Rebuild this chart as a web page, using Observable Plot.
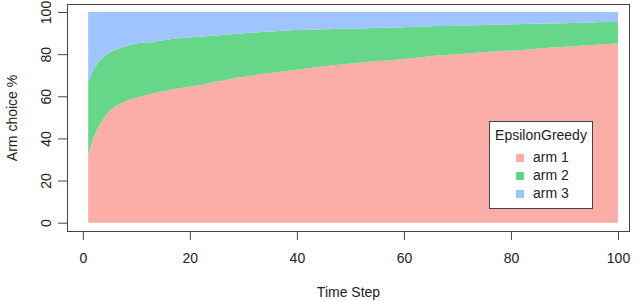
<!DOCTYPE html>
<html>
<head>
<meta charset="utf-8">
<script src="https://cdn.jsdelivr.net/npm/d3@7"></script>
<script src="https://cdn.jsdelivr.net/npm/@observablehq/plot@0.6"></script>
<style>
  html, body { margin: 0; padding: 0; background: #fff; }
  #wrap { position: relative; width: 640px; height: 301px; font-family: "Liberation Sans", Arial, sans-serif; }
  #legend { position: absolute; left: 489px; top: 121px; width: 102px; height: 86px; border: 1px solid #444; background: #fff; font-size: 14px; color: #222; }
  #legend .title { position: absolute; left: 0; right: 0; top: 5px; text-align: center; }
  #legend .item { position: absolute; left: 26px; height: 16px; line-height: 16px; }
  #legend .sw { display: inline-block; width: 8px; height: 8px; margin-right: 9px; vertical-align: 0px; }
</style>
</head>
<body>
<div id="wrap"></div>
<script>
// Time steps 1..100
const steps = d3.range(1, 101);
const arms = ["arm 1", "arm 2", "arm 3"];
const armColors = ["#FBADA7", "#66D688", "#A0C4FF"];
const legendTitle = "EpsilonGreedy";
const xTicks = [0, 20, 40, 60, 80, 100];
const yTicks = [0, 20, 40, 60, 80, 100];
const total = 100;

// cumulative share of arm 1 (%)
const arm1Top = [
  32, 40.5, 46, 50, 53, 55, 56.5, 57.7, 58.6, 59.3,
  60, 60.6, 61.2, 62, 62.3, 62.9, 63.4, 63.8, 64.2, 64.6,
  65, 65.4, 66, 66.5, 67, 67.4, 67.8, 68.4, 69, 69.2,
  69.6, 70, 70.4, 70.7, 71, 71.3, 71.7, 72, 72.4, 72.6,
  73, 73.3, 73.7, 74, 74.2, 74.5, 74.8, 75, 75.3, 75.6,
  75.8, 76, 76.2, 76.5, 76.7, 76.9, 77, 77.2, 77.5, 77.7,
  78, 78.2, 78.5, 78.8, 79, 79.3, 79.4, 79.6, 79.8, 80,
  80.2, 80.4, 80.6, 80.8, 81, 81.1, 81.3, 81.5, 81.6, 81.7,
  81.9, 82, 82.2, 82.4, 82.6, 82.8, 83, 83.2, 83.3, 83.5,
  83.6, 83.8, 84, 84.1, 84.3, 84.4, 84.6, 84.8, 84.9, 85.1
];
// cumulative share of arm 1 + arm 2 (%)
const arm2Top = [
  67, 73, 76.5, 79, 80.8, 82, 83, 83.9, 84.5, 85.1,
  85.4, 85.6, 85.6, 86.2, 86.6, 87, 87.3, 87.6, 87.7, 87.9,
  88.1, 88.3, 88.5, 88.7, 88.9, 89.1, 89.3, 89.5, 89.7, 89.9,
  90.1, 90.3, 90.4, 90.6, 90.8, 90.9, 91.1, 91.2, 91.4, 91.5,
  91.5, 91.6, 91.6, 91.7, 91.8, 91.8, 91.9, 92, 92, 92.1,
  92.2, 92.2, 92.3, 92.4, 92.5, 92.5, 92.6, 92.7, 92.7, 92.8,
  92.9, 92.9, 93, 93.1, 93.2, 93.3, 93.3, 93.4, 93.4, 93.5,
  93.5, 93.6, 93.7, 93.7, 93.8, 93.9, 94, 94.1, 94.1, 94.2,
  94.2, 94.3, 94.3, 94.4, 94.4, 94.5, 94.5, 94.6, 94.7, 94.7,
  94.8, 94.8, 94.9, 95, 95, 95.1, 95.2, 95.3, 95.3, 95.3
];

const rows = [];
steps.forEach((t, i) => {
  rows.push({t, arm: arms[0], y1: 0, y2: arm1Top[i]});
  rows.push({t, arm: arms[1], y1: arm1Top[i], y2: arm2Top[i]});
  rows.push({t, arm: arms[2], y1: arm2Top[i], y2: total});
});

const chart = Plot.plot({
  width: 640,
  height: 301,
  marginLeft: 67,
  marginRight: 11,
  marginTop: 4,
  marginBottom: 70,
  style: { fontFamily: "'Liberation Sans', Arial, sans-serif", fontSize: "14px", color: "#222", background: "#fff" },
  x: { domain: [-2.96, 102.06] },
  y: { domain: [-3.94, 103.8] },
  color: { domain: arms, range: armColors },
  marks: [
    Plot.areaY(rows, { x: "t", y1: "y1", y2: "y2", fill: "arm", z: "arm" }),
    Plot.frame({ stroke: "#444", strokeWidth: 1 }),
    Plot.axisX({ ticks: xTicks, tickSize: 9, tickPadding: 13, stroke: "#444", label: "Time Step", labelAnchor: "center", labelOffset: 65, labelArrow: "none" }),
    Plot.axisY({ ticks: yTicks, tickSize: 9, tickPadding: 8, tickRotate: -90, stroke: "#444", label: "Arm choice %", labelAnchor: "center", labelOffset: 60, labelArrow: "none" })
  ]
});
const wrap = document.getElementById("wrap");
wrap.appendChild(chart);

const legend = document.createElement("div");
legend.id = "legend";
const title = document.createElement("div");
title.className = "title";
title.textContent = legendTitle;
legend.appendChild(title);
arms.forEach((a, i) => {
  const it = document.createElement("div");
  it.className = "item";
  it.style.top = (27 + i * 18) + "px";
  const sw = document.createElement("span");
  sw.className = "sw";
  sw.style.background = armColors[i];
  it.appendChild(sw);
  it.appendChild(document.createTextNode(a));
  legend.appendChild(it);
});
wrap.appendChild(legend);
</script>
</body>
</html>
